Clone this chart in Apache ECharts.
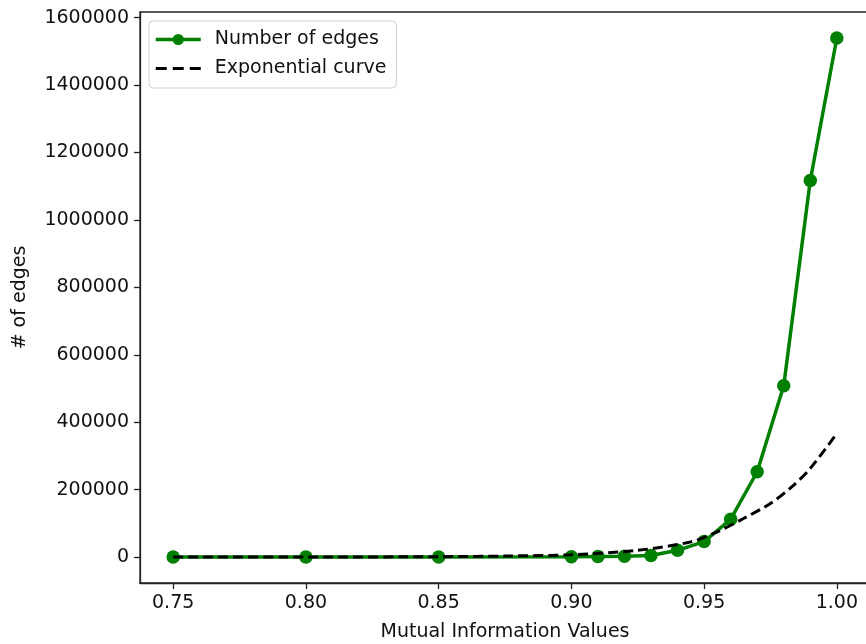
<!DOCTYPE html>
<html>
<head>
<meta charset="utf-8">
<script src="https://cdn.jsdelivr.net/npm/echarts@6/dist/echarts.min.js"></script>
<style>html,body{margin:0;padding:0;background:#fff;}#c{width:866px;height:644px;}</style>
</head>
<body>
<div id="c"></div>
<script>
// Data
var edgeX = [0.75, 0.80, 0.85, 0.90, 0.91, 0.92, 0.93, 0.94, 0.95, 0.96, 0.97, 0.98, 0.99, 1.00];
var edgeY = [0, 0, 0, 1000, 1500, 2500, 4500, 20000, 46000, 112000, 253000, 508000, 1117000, 1540000];
var expX = [0.75, 0.80, 0.85, 0.875, 0.90, 0.925, 0.945, 0.955, 0.965, 0.975, 0.983, 0.99, 1.00];
var expY = [20, 150, 1000, 3000, 7000, 20000, 45000, 75000, 115000, 159000, 208000, 263000, 366500];
var xTicks = [0.75, 0.80, 0.85, 0.90, 0.95, 1.00];
var yTicks = [0, 200000, 400000, 600000, 800000, 1000000, 1200000, 1400000, 1600000];
var seriesNames = ['Number of edges', 'Exponential curve'];
var xName = 'Mutual Information Values';
var yName = '# of edges';

function pairs(xs, ys) { return xs.map(function (x, i) { return [x, ys[i]]; }); }

var FONT = 'DejaVu Sans';
var FS = 19;
var AX = '#222';
var chart = echarts.init(document.getElementById('c'));
chart.setOption({
  animation: false,
  backgroundColor: '#fff',
  textStyle: { fontFamily: FONT },
  grid: { left: 140, top: 12, width: 730, height: 571, outerBoundsMode: 'none', containLabel: false,
    show: true, borderColor: AX, borderWidth: 1.3 },
  legend: {
    orient: 'vertical', left: 149, top: 21,
    padding: [9, 10, 10, 5],
    itemWidth: 45, itemHeight: 14, itemGap: 10,
    borderColor: '#d0d0d0', borderWidth: 1, borderRadius: 4, backgroundColor: '#fff',
    textStyle: { fontFamily: FONT, fontSize: FS, color: '#111', padding: [0, 0, 0, 9] },
    data: [
      { name: seriesNames[0], lineStyle: { width: 3.5, color: '#008000' } },
      { name: seriesNames[1], itemStyle: { opacity: 0 }, lineStyle: { width: 3, color: '#000', type: [11, 6] } }
    ]
  },
  xAxis: {
    type: 'value', min: 0.7375, max: 1.0125,
    name: xName, nameLocation: 'middle', nameGap: 40,
    nameTextStyle: { fontFamily: FONT, fontSize: FS, color: '#111' },
    axisLine: { show: true, onZero: false, lineStyle: { color: AX, width: 1.3 } },
    axisTick: { show: true, length: 6, inside: false, customValues: xTicks, lineStyle: { color: AX, width: 1.3 } },
    axisLabel: { customValues: xTicks, margin: 11, fontFamily: FONT, fontSize: FS, color: '#111',
      formatter: function (v) { return Number(v).toFixed(2); } },
    splitLine: { show: false }
  },
  yAxis: {
    type: 'value', min: -77000, max: 1617000,
    name: yName, nameLocation: 'middle', nameGap: 110, nameRotate: 90,
    nameTextStyle: { fontFamily: FONT, fontSize: FS, color: '#111' },
    axisLine: { show: true, onZero: false, lineStyle: { color: AX, width: 1.3 } },
    axisTick: { show: true, length: 6, inside: false, customValues: yTicks, lineStyle: { color: AX, width: 1.3 } },
    axisLabel: { customValues: yTicks, margin: 11, fontFamily: FONT, fontSize: FS, color: '#111',
      formatter: function (v) { return String(Math.round(v)); } },
    splitLine: { show: false }
  },
  series: [
    {
      name: seriesNames[0], type: 'line', data: pairs(edgeX, edgeY),
      symbol: 'circle', symbolSize: 13.5, showAllSymbol: true,
      lineStyle: { color: '#008000', width: 3.5 },
      itemStyle: { color: '#008000' },
      z: 2
    },
    {
      name: seriesNames[1], type: 'line', data: pairs(expX, expY),
      smooth: 0.3, symbol: 'none',
      lineStyle: { color: '#000', width: 3, type: [10, 5] },
      itemStyle: { color: '#000' },
      z: 3
    }
  ]
});
</script>
</body>
</html>
